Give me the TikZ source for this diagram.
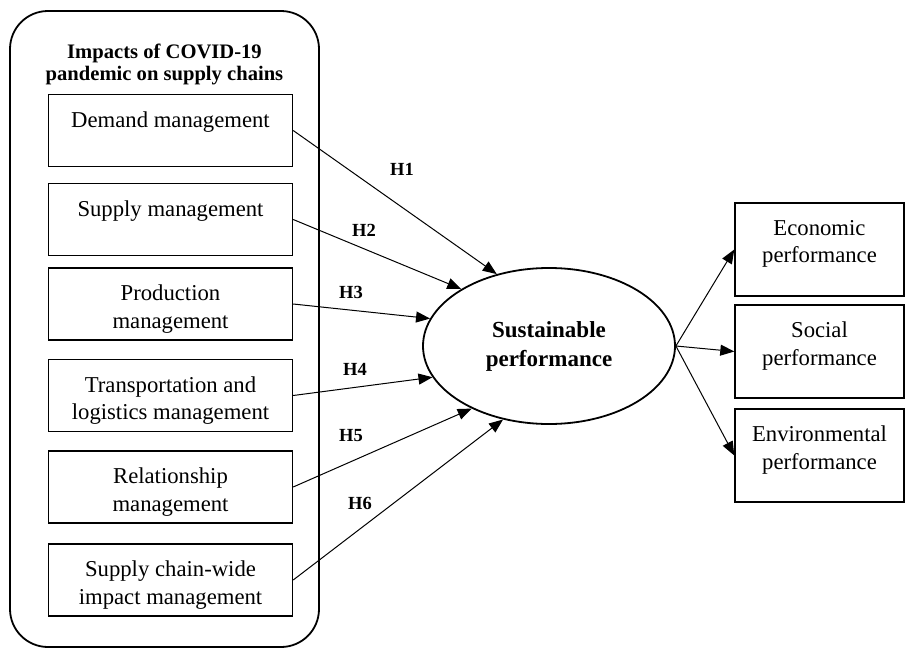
\documentclass[tikz,border=0pt]{standalone}
\usepackage{fontspec}
\setmainfont{Liberation Serif}
\usetikzlibrary{shapes.geometric,arrows.meta}
\newcommand{\boxfont}{\fontsize{22.7}{27.5}\selectfont}
\newcommand{\headfont}{\fontsize{20.6}{22}\selectfont\bfseries}
\newcommand{\hypfont}{\fontsize{18.5}{20}\selectfont\bfseries}
\newcommand{\perffont}{\fontsize{23}{29}\selectfont\bfseries}

\tikzset{
  impact/.style={draw, line width=1.4pt, minimum width=244pt, minimum height=72pt, inner sep=0pt},
  dim/.style={draw, line width=1.4pt, minimum width=169pt, minimum height=93pt, inner sep=0pt},
  boxtext/.style={anchor=north, align=center, inner sep=0pt, yshift=-17.5pt, font=\boxfont},
  hyp/.style={font=\hypfont, inner sep=0pt},
  link/.style={line width=1pt, -{Triangle[length=14pt,width=11pt]}},
}

\begin{document}
\begin{tikzpicture}[x=1pt, y=-1pt]
  \useasboundingbox (0,0) rectangle (906,648);
  % the group of impacts
  \draw[line width=1.8pt, rounded corners=38pt] (10,11) rectangle (319,647);
  \node[font=\headfont, align=center, anchor=north, inner sep=0pt] (head) at (164.5,43.5)
    {Impacts of COVID-19\\pandemic on supply chains};
  \node[impact, label={[boxtext]north:Demand management}] (dem) at (170.5,130.5) {};
  \node[impact, label={[boxtext]north:Supply management}] (sup) at (170.5,219.5) {};
  \node[impact, label={[boxtext]north:Production\\management}] (prod) at (170.5,304) {};
  \node[impact, label={[boxtext]north:Transportation and\\logistics management}] (trans) at (170.5,395.5) {};
  \node[impact, label={[boxtext]north:Relationship\\management}] (rel) at (170.5,487) {};
  \node[impact, label={[boxtext]north:Supply chain-wide\\impact management}] (wide) at (170.5,580) {};
  % outcome
  \node[ellipse, draw, line width=1.8pt, minimum width=252pt, minimum height=156pt,
        inner sep=0pt, align=center, font=\perffont] (sp) at (549,346) {Sustainable\\performance};
  \node[dim, label={[boxtext]north:Economic\\performance}] (eco) at (819.5,249.5) {};
  \node[dim, label={[boxtext]north:Social\\performance}] (soc) at (819.5,351.5) {};
  \node[dim, label={[boxtext]north:Environmental\\performance}] (env) at (819.5,455.5) {};
  % hypotheses
  \draw[link] (dem.east) -- (sp.126);
  \draw[link] (sup.east) -- (sp.147);
  \draw[link] (prod.east) -- (sp.167);
  \draw[link] (trans.east) -- (sp.195);
  \draw[link] (rel.east) -- (sp.219);
  \draw[link] (wide.east) -- (sp.238);
  \node[hyp] (h1) at (402,169.5) {H1};
  \node[hyp] (h2) at (364,230) {H2};
  \node[hyp] (h3) at (351,292) {H3};
  \node[hyp] (h4) at (355,369.5) {H4};
  \node[hyp] (h5) at (351,436) {H5};
  \node[hyp] (h6) at (360,503.5) {H6};
  \draw[link] (sp.east) -- (eco.west);
  \draw[link] (sp.east) -- (soc.west);
  \draw[link] (sp.east) -- (env.west);
\end{tikzpicture}
\end{document}
